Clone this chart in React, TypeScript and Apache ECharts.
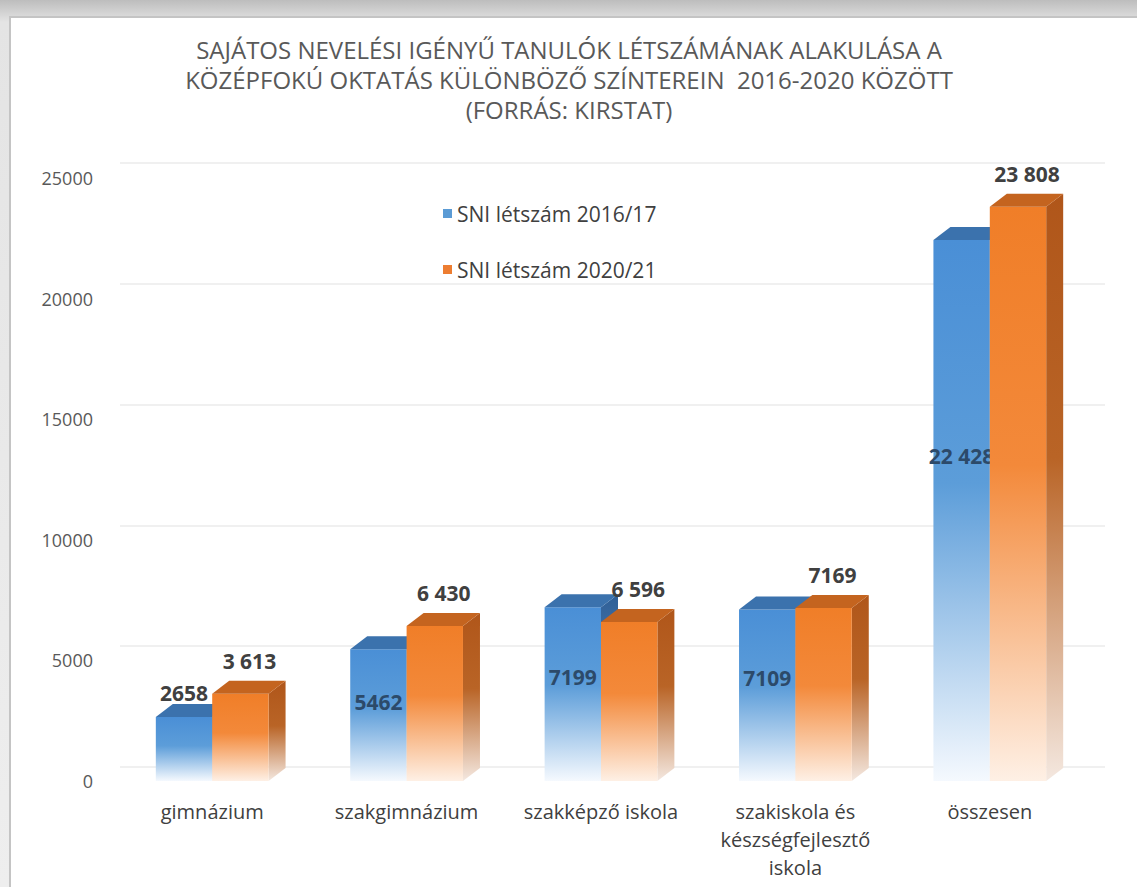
import React, { useEffect, useRef } from "react";
import * as echarts from "echarts";

const categories = [
  "gimnázium",
  "szakgimnázium",
  "szakképző iskola",
  "szakiskola és\nkészségfejlesztő\niskola",
  "összesen",
];
const seriesNames = ["SNI létszám 2016/17", "SNI létszám 2020/21"];
const values2016 = [2658, 5462, 7199, 7109, 22428];
const values2020 = [3613, 6430, 6596, 7169, 23808];
const labels2016 = ["2658", "5462", "7199", "7109", "22 428"];
const labels2020 = ["3 613", "6 430", "6 596", "7169", "23 808"];
const yMin = 0;
const yMax = 25000;
const yStep = 5000;

const FONT = "'Open Sans', 'Noto Sans', sans-serif";

const palettes = [
  {
    legend: "#5b9bd5",
    front: ["#4a8fd6", "#5c9dd9", "#f5f9fe"],
    top: "#3b72ad",
    side: ["#2f5f96", "#4f7fb5", "#eef2f8"],
  },
  {
    legend: "#ed7d31",
    front: ["#f07e28", "#f3893a", "#fef0e5"],
    top: "#c4641f",
    side: ["#b0561a", "#b96426", "#f4e8e0"],
  },
];

function grad(c: string[]) {
  return new echarts.graphic.LinearGradient(0, 0, 0, 1, [
    { offset: 0, color: c[0] },
    { offset: 0.45, color: c[1] },
    { offset: 1, color: c[2] },
  ]);
}

function makeRender(which: number, labels: string[]) {
  const pal = palettes[which];
  return (params: any, api: any) => {
    const idx = params.dataIndex;
    const cat = api.value(0);
    const val = api.value(1);
    const top = api.coord([cat, val]);
    const base = api.coord([cat, 0]);
    const band = api.size([1, 0])[0];
    const w = band * 0.29;
    const x0 = which === 0 ? top[0] - w : top[0];
    const yT = top[1];
    const yB = base[1];
    const dx = 17;
    const dy = 13;
    let tx: number;
    let ty: number;
    let tfill: string;
    if (which === 0) {
      if (val > 4000) {
        tx = x0 + w / 2;
        ty = yB - 0.6 * (yB - yT);
        tfill = "#2c4a6a";
      } else {
        tx = x0 + w / 2;
        ty = yT - 24;
        tfill = "#404040";
      }
    } else {
      tx = x0 + w / 2 + 9;
      ty = yT - 33;
      tfill = "#404040";
    }
    return {
      type: "group",
      children: [
        {
          type: "polygon",
          shape: {
            points: [
              [x0 + w, yT],
              [x0 + w + dx, yT - dy],
              [x0 + w + dx, yB - dy],
              [x0 + w, yB],
            ],
          },
          style: { fill: grad(pal.side) },
        },
        {
          type: "rect",
          shape: { x: x0, y: yT, width: w, height: yB - yT },
          style: { fill: grad(pal.front) },
        },
        {
          type: "polygon",
          shape: {
            points: [
              [x0, yT],
              [x0 + dx, yT - dy],
              [x0 + w + dx, yT - dy],
              [x0 + w, yT],
            ],
          },
          style: { fill: pal.top },
        },
        {
          type: "text",
          x: tx,
          y: ty,
          style: {
            text: labels[idx],
            fill: tfill,
            fontSize: 21,
            fontWeight: "bold",
            fontFamily: FONT,
            align: "center",
            verticalAlign: "middle",
            textAlign: "center",
            textVerticalAlign: "middle",
          },
        },
      ],
    };
  };
}

export default function App() {
  const ref = useRef<HTMLDivElement>(null);
  useEffect(() => {
    if (!ref.current) return;
    const chart = echarts.init(ref.current, undefined, { renderer: "svg" });
    const option: any = {
      animation: false,
      backgroundColor: "#ffffff",
      graphic: [
        {
          type: "rect",
          z: -10,
          silent: true,
          shape: { x: 0, y: 0, width: 1137, height: 887 },
          style: {
            fill: new echarts.graphic.LinearGradient(0, 0, 0, 1, [
              { offset: 0, color: "#bdbdbd" },
              { offset: 0.025, color: "#e4e4e4" },
              { offset: 1, color: "#eeeeee" },
            ]),
          },
        },
        {
          type: "rect",
          z: -9,
          silent: true,
          shape: { x: 10, y: 17, width: 1140, height: 880 },
          style: { fill: "#ffffff", stroke: "#c4c4c4", lineWidth: 2 },
        },
      ],
      title: {
        text:
          "SAJÁTOS NEVELÉSI IGÉNYŰ TANULÓK LÉTSZÁMÁNAK ALAKULÁSA A\nKÖZÉPFOKÚ OKTATÁS KÜLÖNBÖZŐ SZÍNTEREIN  2016-2020 KÖZÖTT\n(FORRÁS: KIRSTAT)",
        left: 564,
        top: 29,
        textAlign: "center",
        textStyle: {
          fontFamily: FONT,
          fontSize: 24,
          fontWeight: "normal",
          color: "#595959",
          lineHeight: 30,
        },
      },
      legend: {
        data: seriesNames,
        orient: "vertical",
        left: 438,
        top: 198,
        itemGap: 35,
        itemWidth: 9,
        itemHeight: 9,
        icon: "rect",
        textStyle: { fontFamily: FONT, fontSize: 21, color: "#404040" },
      },
      grid: [
        { left: 115, right: 50, top: 178, bottom: 106 },
        { left: 120, right: 32, top: 163, bottom: 120 },
      ],
      xAxis: [
        {
          type: "category",
          gridIndex: 0,
          data: categories,
          axisLine: { show: false },
          axisTick: { show: false },
          axisLabel: {
            margin: 16,
            fontFamily: FONT,
            fontSize: 20,
            color: "#404040",
            lineHeight: 28,
            interval: 0,
          },
        },
        {
          type: "category",
          gridIndex: 1,
          data: categories,
          show: false,
        },
      ],
      yAxis: [
        {
          type: "value",
          gridIndex: 0,
          min: yMin,
          max: yMax,
          interval: yStep,
          axisLine: { show: false },
          axisTick: { show: false },
          splitLine: { show: false },
          axisLabel: {
            margin: 22,
            formatter: (v: number) => String(v),
            fontFamily: FONT,
            fontSize: 18,
            color: "#595959",
          },
        },
        {
          type: "value",
          gridIndex: 1,
          min: yMin,
          max: yMax,
          interval: yStep,
          axisLine: { show: false },
          axisTick: { show: false },
          axisLabel: { show: false },
          splitLine: { show: true, lineStyle: { color: "#ebebeb", width: 1.5 } },
        },
      ],
      series: [
        {
          name: seriesNames[0],
          type: "custom",
          xAxisIndex: 0,
          yAxisIndex: 0,
          itemStyle: { color: palettes[0].legend },
          data: values2016.map((v, i) => [i, v]),
          encode: { x: 0, y: 1 },
          renderItem: makeRender(0, labels2016),
        },
        {
          name: seriesNames[1],
          type: "custom",
          xAxisIndex: 0,
          yAxisIndex: 0,
          itemStyle: { color: palettes[1].legend },
          data: values2020.map((v, i) => [i, v]),
          encode: { x: 0, y: 1 },
          renderItem: makeRender(1, labels2020),
        },
      ],
    };
    chart.setOption(option);
    return () => chart.dispose();
  }, []);
  return (
    <div
      ref={ref}
      style={{ position: "fixed", left: 0, top: 0, width: 1137, height: 887 }}
    />
  );
}
